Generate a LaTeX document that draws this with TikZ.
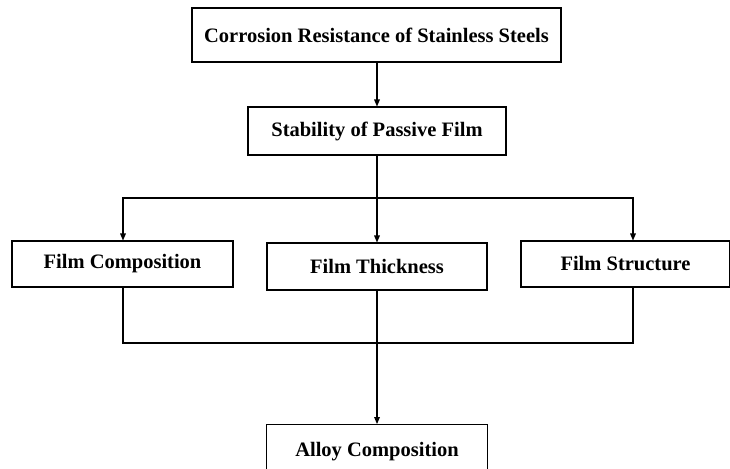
\documentclass[tikz,border=0pt]{standalone}
\usepackage{fontspec}
\setmainfont{Liberation Serif}
\usetikzlibrary{arrows.meta}
\begin{document}
\begin{tikzpicture}[x=1pt,y=-1pt,
  box/.style={draw=black,line width=1.1pt,fill=white,inner sep=0pt,
    font=\fontsize{20.5}{24}\selectfont\bfseries},
  conn/.style={draw=black,line width=2pt,line cap=rect},
  arr/.style={conn,shorten >=5pt},
  tip/.style={fill=black,draw=none}]
\useasboundingbox (0,0) rectangle (730,468);
\clip (0,0) rectangle (730,468);
\node[box,minimum width=369pt,minimum height=54pt] (top) at (376.5,35) {Corrosion Resistance of Stainless Steels};
\node[box,minimum width=258pt,minimum height=48pt] (stab) at (377,131) {Stability of Passive Film};
\node[box,minimum width=221pt,minimum height=46pt] (fc) at (122.5,264) {Film Composition};
\node[box,minimum width=220pt,minimum height=47pt] (ft) at (377,266.5) {Film Thickness};
\node[box,minimum width=209pt,minimum height=46pt] (fs) at (625.5,264) {Film Structure};
\node[box,minimum width=221pt,minimum height=54pt,anchor=north] (alloy) at (377,424) {\raisebox{-2pt}{Alloy Composition}};
\coordinate (jl) at (123,198);
\coordinate (jm) at (377,198);
\coordinate (jr) at (633,198);
\coordinate (bl) at (123,343);
\coordinate (br) at (633,343);
\coordinate (tl) at (jl |- fc.north);
\coordinate (tr) at (jr |- fs.north);
\coordinate (ts) at (top.south -| stab.north);
\path[arr] (ts) -- (stab.north);
\path[conn] (stab.south) -- (jm);
\path[conn] (jl) -- (jr);
\path[arr] (jl) -- (tl);
\path[arr] (jm) -- (ft.north);
\path[arr] (jr) -- (tr);
\path[conn] (fc.south -| bl) -- (bl) -- (br) -- (fs.south -| br);
\path[arr] (ft.south) -- (alloy.north);
\foreach \p in {stab.north,tl,ft.north,tr,alloy.north}
  \fill[tip] ([xshift=-3pt,yshift=7pt]\p) -- ([xshift=3pt,yshift=7pt]\p) -- (\p) -- cycle;
\end{tikzpicture}
\end{document}
